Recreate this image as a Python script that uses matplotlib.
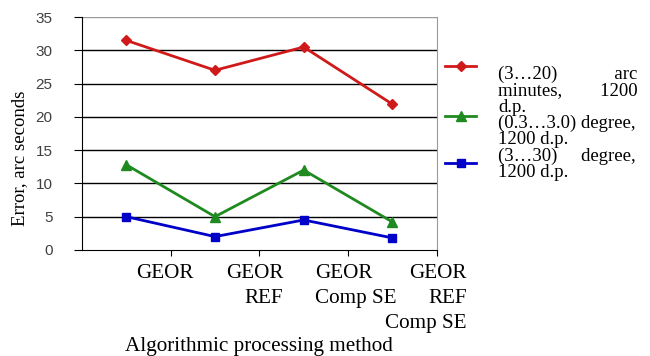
import matplotlib
matplotlib.use("Agg")
import matplotlib.pyplot as plt
import matplotlib.transforms as mtransforms

# data
methods = ["GEOR", "GEOR\nREF", "GEOR\nComp SE", "GEOR\nREF\nComp SE"]
arcmin_3_20 = [31.5, 27.0, 30.5, 21.9]
deg_03_30 = [12.8, 5.0, 12.0, 4.2]
deg_3_30 = [5.0, 2.0, 4.5, 1.8]
yticks = [0, 5, 10, 15, 20, 25, 30, 35]
legend_text = ("(3…20)" + " " * 12 + "arc\n"
               "minutes," + " " * 8 + "1200\n"
               "d.p.\n"
               "(0.3…3.0) degree,\n"
               "1200 d.p.\n"
               "(3…30)" + " " * 5 + "degree,\n"
               "1200 d.p.")

serif = "Liberation Serif"
fs = 13.5

fig = plt.figure(figsize=(6.5, 3.56), dpi=100)
ax = fig.add_axes([0.126, 0.298, 0.546, 0.654])

x = list(range(len(methods)))
ax.plot(x, arcmin_3_20, color="#d01a1a", lw=2, marker="D", ms=5)
ax.plot(x, deg_03_30, color="#1f8a1f", lw=2, marker="^", ms=7)
ax.plot(x, deg_3_30, color="#0000c8", lw=2, marker="s", ms=6)

ax.set_xlim(-0.5, len(methods) - 0.5)
ax.set_ylim(0, 35)
ax.set_yticks(yticks)
ax.set_yticklabels([str(v) for v in yticks], family="Liberation Sans",
                   fontsize=11, color="#404040")
for v in yticks[1:]:
    ax.axhline(v, color="black" if v < 35 else "#999999", lw=1, zorder=0)

ax.set_xticks([i + 0.5 for i in x])
ax.set_xticklabels([])
ax.tick_params(axis="x", direction="out", length=4, color="black")
ax.tick_params(axis="y", direction="out", length=6, pad=15, color="black")
ax.spines["top"].set_visible(False)
ax.spines["right"].set_color("#999999")

# category labels, one text per line, placed like the justified source text
offs = [(-6, "center"), (24, "right"), (-33, "left"), (30, "right")]
base = mtransforms.blended_transform_factory(ax.transData, ax.transAxes)
for i, (lab, (dx, ha)) in enumerate(zip(methods, offs)):
    for k, line in enumerate(lab.split("\n")):
        tr = base + mtransforms.ScaledTranslation(dx / 100, -k * 0.25,
                                                  fig.dpi_scale_trans)
        ax.text(i + 0.5, -0.1, line, transform=tr, ha=ha, va="center",
                family=serif, fontsize=15.2)

fig.text(125 / 650, 1 - 346 / 356, "Algorithmic processing method",
         ha="left", va="center", family=serif, fontsize=15.2)
fig.text(20 / 650, 1 - 158 / 356, "Error, arc seconds", rotation=90,
         ha="center", va="center", family=serif, fontsize=fs)

# legend drawn by hand
handles = [("#d01a1a", "D", 5, 66), ("#1f8a1f", "^", 7, 116), ("#0000c8", "s", 6, 163)]
for c, m, ms, py in handles:
    yy = 1 - py / 356
    fig.add_artist(plt.Line2D([445 / 650, 476 / 650], [yy, yy], color=c, lw=2))
    fig.add_artist(plt.Line2D([460.5 / 650], [yy], color=c, marker=m, ms=ms))

fig.text(498 / 650, 1 - 66 / 356, legend_text, ha="left", va="top",
         family=serif, fontsize=fs, linespacing=0.94)

fig.savefig("out.png", dpi=100)
